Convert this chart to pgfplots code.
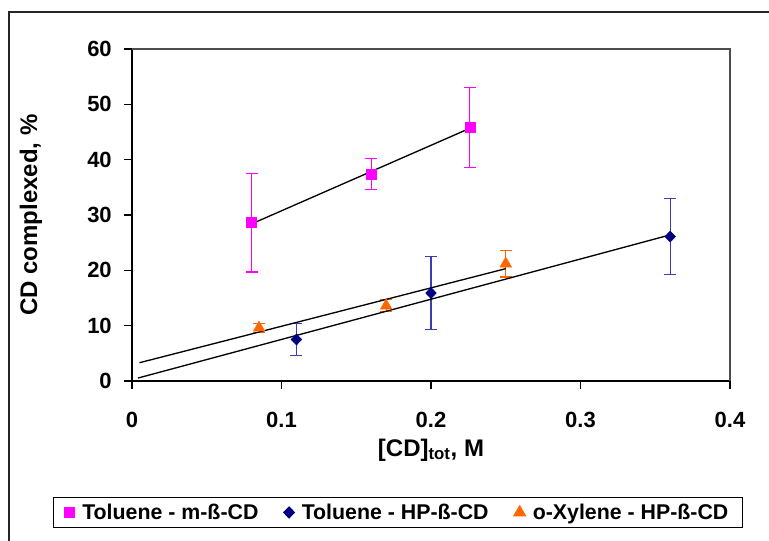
\documentclass[border=0pt]{standalone}
\usepackage{fontspec}
\setmainfont{Liberation Sans}
\usepackage{pgfplots}
\pgfplotsset{compat=1.18}
\definecolor{mag}{HTML}{FF00FF}
\definecolor{navyb}{HTML}{000080}
\definecolor{navyerr}{RGB}{60,60,175}
\definecolor{orng}{HTML}{FF6600}
\begin{document}
\begin{tikzpicture}[x=1pt,y=1pt]
\begin{axis}[
  at={(0,0)}, anchor=south west,
  scale only axis, width=448.5pt, height=249pt,
  xmin=0, xmax=0.4, ymin=0, ymax=60,
  xtick={0,0.1,0.2,0.3,0.4}, ytick={0,10,20,30,40,50,60},
  axis x line*=bottom, axis y line*=left,
  axis line style={black, line width=1.1pt},
  tick align=outside, major tick length=6pt,
  tick style={black, line width=0.8pt},
  /pgf/number format/assume math mode=true,
  ticklabel style={font=\fontsize{16.5}{18}\selectfont\bfseries},
  xticklabel style={anchor=north, inner sep=0pt},
  yticklabel style={anchor=east, inner sep=0pt},
  xticklabel shift=17.5pt, yticklabel shift=9pt,
  xlabel={[CD]\textsubscript{tot}, M},
  ylabel={CD complexed, \%},
  label style={font=\fontsize{18}{20}\selectfont\bfseries},
  xlabel style={at={(axis description cs:0.5,-0.2078)}, anchor=center},
  ylabel style={at={(axis description cs:-0.169,0.5)}, anchor=center},
  clip=false,
  legend columns=3,
  legend style={at={(0.4448,-0.396)}, anchor=center, draw=black, line width=0.8pt,
    fill=white, font=\fontsize{16}{18}\selectfont\bfseries,
    inner xsep=8.5pt, inner ysep=3pt,
    /tikz/every odd column/.append style={column sep=3.5pt},
    /tikz/every even column/.append style={column sep=17pt}},
  legend image code/.code={\draw[mark repeat=2,mark phase=2,#1] plot coordinates {(0pt,0pt)(4pt,0pt)(8pt,0pt)};},
]
\draw[gray!60!black, line width=0.8pt] (rel axis cs:0,1) -- (rel axis cs:1,1) -- (rel axis cs:1,0);
\addplot[only marks, mark=square*, mark size=3.75pt, color=mag,
  error bars/.cd, y dir=both, y explicit,
  error bar style={mag, line width=0.8pt},
  error mark options={rotate=90, mag, mark size=4.5pt, line width=0.8pt}]
  coordinates {(0.08,28.6) +- (0,8.9) (0.16,37.4) +- (0,2.8) (0.226,45.8) +- (0,7.2)};
\addlegendentry{Toluene - m-ß-CD}
\addplot[only marks, mark=diamond*, mark size=4.1pt, mark options={xscale=1.3}, color=navyb,
  error bars/.cd, y dir=both, y explicit,
  error bar style={navyerr, line width=0.8pt},
  error mark options={rotate=90, navyerr, mark size=4.5pt, line width=0.8pt}]
  coordinates {(0.11,7.5) +- (0,2.9) (0.20,15.9) +- (0,6.65) (0.36,26.1) +- (0,6.8)};
\addlegendentry{Toluene - HP-ß-CD}
\addplot[only marks, mark=triangle*, mark size=5pt, color=orng,
  error bars/.cd, y dir=both, y explicit,
  error bar style={orng, line width=0.8pt},
  error mark options={rotate=90, orng, mark size=4.5pt, line width=0.8pt}]
  coordinates {(0.085,9.6) +- (0,0.8) (0.17,13.6) +- (0,1.1) (0.25,21.2) +- (0,2.4)};
\addlegendentry{o-Xylene - HP-ß-CD}
\addplot[black, line width=1pt, forget plot] coordinates {(0.08,28.39) (0.226,45.67)};
\addplot[black, line width=1pt, forget plot] coordinates {(0.004,0.53) (0.36,26.41)};
\addplot[black, line width=1pt, forget plot] coordinates {(0.005,3.3) (0.25,20.3)};
\end{axis}
\draw[black!85, line width=1.1pt] (-92.25,-130) -- (-92.25,276.75) -- (490,276.75);
\pgfresetboundingbox
\path[use as bounding box] (-99,-120) rectangle (477.75,285.75);
\end{tikzpicture}
\end{document}
